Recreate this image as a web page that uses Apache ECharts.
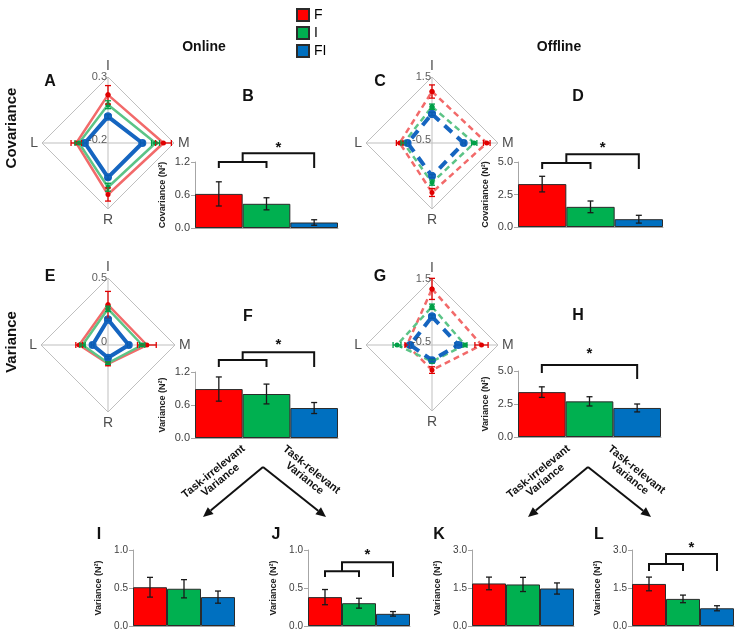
<!DOCTYPE html>
<html><head><meta charset="utf-8">
<script src="https://cdn.jsdelivr.net/npm/echarts@6/dist/echarts.min.js"></script>
<style>html,body{margin:0;padding:0;background:#fff}#c{width:737px;height:633px}</style>
</head><body><div id="c"></div>
<script>
// ---------- DATA ----------
const groups = ['F', 'I', 'FI'];
const radarAxes = ['I', 'M', 'R', 'L'];

// Radar panels: values ordered [I, M, R, L]
const radarA_range = [-0.2, 0.3];
const radarA_F = [0.165, 0.22, 0.19, 0.04];
const radarA_I = [0.09, 0.16, 0.135, 0.02];
const radarA_FI = [0.0, 0.06, 0.06, -0.025];
const radarA_errF = [0.07, 0.06, 0.05, 0.04];
const radarA_errI = [0.03, 0.03, 0.03, 0.03];
const radarA_errFI = [0.015, 0.015, 0.015, 0.015];

const radarC_range = [-0.5, 1.5];
const radarC_F = [1.06, 1.16, 1.0, 0.48];
const radarC_I = [0.6, 0.78, 0.7, 0.36];
const radarC_FI = [0.38, 0.46, 0.5, 0.24];
const radarC_errF = [0.2, 0.1, 0.12, 0.1];
const radarC_errI = [0.08, 0.08, 0.08, 0.08];
const radarC_errFI = [0.05, 0.05, 0.05, 0.05];

const radarE_range = [0, 0.5];
const radarE_F = [0.30, 0.29, 0.14, 0.215];
const radarE_I = [0.27, 0.255, 0.135, 0.19];
const radarE_FI = [0.19, 0.155, 0.095, 0.115];
const radarE_errF = [0.1, 0.07, 0.015, 0.025];
const radarE_errI = [0.02, 0.02, 0.01, 0.02];
const radarE_errFI = [0.01, 0.01, 0.01, 0.01];

const radarG_range = [-0.5, 1.5];
const radarG_F = [1.2, 1.0, 0.26, 0.26];
const radarG_I = [0.66, 0.5, 0.0, 0.56];
const radarG_FI = [0.36, 0.3, -0.04, 0.16];
const radarG_errF = [0.32, 0.2, 0.1, 0.06];
const radarG_errI = [0.08, 0.06, 0.05, 0.12];
const radarG_errFI = [0.05, 0.1, 0.05, 0.05];

// Bar panels
const B_values = [0.62, 0.44, 0.10];
const B_errors = [0.22, 0.11, 0.05];
const D_values = [3.3, 1.55, 0.6];
const D_errors = [0.6, 0.45, 0.3];
const F_values = [0.89, 0.80, 0.545];
const F_errors = [0.22, 0.18, 0.10];
const H_values = [3.4, 2.7, 2.2];
const H_errors = [0.4, 0.35, 0.3];
const I_values = [0.51, 0.49, 0.38];
const I_errors = [0.13, 0.12, 0.08];
const J_values = [0.38, 0.30, 0.16];
const J_errors = [0.10, 0.065, 0.03];
const K_values = [1.68, 1.64, 1.48];
const K_errors = [0.25, 0.28, 0.22];
const L_values = [1.66, 1.07, 0.70];
const L_errors = [0.27, 0.15, 0.10];

const ticks_B = [0, 0.6, 1.2];
const ticks_D = [0, 2.5, 5.0];
const ticks_I = [0, 0.5, 1.0];
const ticks_K = [0, 1.5, 3.0];

// significance brackets: [x1, x2, y, yLeftLegEnd, yRightLegEnd]; star: [x, y]
const B_brackets = [[0, 1, 1.2, 1.09, 1.09], [0.5, 2, 1.36, 1.2, 1.09]];
const B_star = [1.25, 1.46];
const D_brackets = [[0, 1, 4.92, 4.46, 4.46], [0.5, 2, 5.6, 4.92, 4.46]];
const D_star = [1.25, 6.1];
const F_brackets = [[0, 1, 1.42, 1.29, 1.29], [0.5, 2, 1.56, 1.42, 1.29]];
const F_star = [1.25, 1.69];
const H_brackets = [[0, 2, 5.45, 4.85, 4.4]];
const H_star = [1, 6.3];
const J_brackets = [[0, 1, 0.72, 0.645, 0.645], [0.5, 2, 0.84, 0.72, 0.645]];
const J_star = [1.25, 0.93];
const L_brackets = [[0, 1, 2.45, 2.17, 2.17], [0.5, 2, 2.84, 2.45, 2.17]];
const L_star = [1.25, 3.08];

// ---------- STYLE ----------
const colors = ['#ff0000', '#00b050', '#0070c0'];
const radarLine = ['#f26a6a', '#5cc487', '#1565c0'];
const errCol = ['#e00000', '#00a048', '#0a5cb0'];
const FONT = 'Liberation Sans, Arial, sans-serif';

const option = {
  animation: false,
  textStyle: { fontFamily: FONT },
  grid: [], xAxis: [], yAxis: [], series: [], graphic: [],
  legend: {
    orient: 'vertical', left: 291, top: 3, itemGap: 4, itemWidth: 12, itemHeight: 12,
    data: groups.map((g, i) => ({ name: g, icon: 'rect', itemStyle: { color: colors[i] } })),
    textStyle: { fontSize: 14, color: '#000', fontFamily: FONT }, selectedMode: false
  }
};

function addBarPanel(rect, values, errors, ticks, yName, nameGap, labelSize, brackets, star) {
  const gi = option.grid.length;
  option.grid.push({ left: rect[0], top: rect[1], width: rect[2], height: rect[3] });
  option.xAxis.push({ type: 'category', gridIndex: gi, data: groups,
    axisLine: { lineStyle: { color: '#a6a6a6' } }, axisTick: { show: false }, axisLabel: { show: false } });
  option.yAxis.push({ type: 'value', gridIndex: gi, min: ticks[0], max: ticks[2], interval: ticks[1] - ticks[0],
    axisLine: { show: true, lineStyle: { color: '#a6a6a6' } },
    axisTick: { show: true, length: 4, lineStyle: { color: '#a6a6a6' } },
    splitLine: { show: false },
    axisLabel: { fontSize: labelSize, color: '#404040', formatter: v => v.toFixed(1), margin: 5 },
    name: yName, nameLocation: 'middle', nameRotate: 90, nameGap: nameGap,
    nameTextStyle: { fontSize: 9, fontWeight: 'bold', color: '#222' } });
  groups.forEach((g, i) => {
    option.series.push({ type: 'bar', name: g, xAxisIndex: gi, yAxisIndex: gi, barWidth: '100%', barGap: '-100%',
      data: values.map((v, j) => j === i ? v : '-'),
      itemStyle: { color: colors[i], borderColor: '#2b2b2b', borderWidth: 1 } });
  });
  option.series.push({ type: 'custom', xAxisIndex: gi, yAxisIndex: gi, z: 10,
    data: values.map((v, i) => [i, v, errors[i]]),
    renderItem: function (p, api) {
      const x = api.value(0), v = api.value(1), e = api.value(2);
      const t = api.coord([x, v + e]), b = api.coord([x, v - e]);
      const w = 3, st = { stroke: '#1a1a1a', lineWidth: 1.3 };
      return { type: 'group', children: [
        { type: 'line', shape: { x1: t[0], y1: t[1], x2: b[0], y2: b[1] }, style: st },
        { type: 'line', shape: { x1: t[0] - w, y1: t[1], x2: t[0] + w, y2: t[1] }, style: st },
        { type: 'line', shape: { x1: b[0] - w, y1: b[1], x2: b[0] + w, y2: b[1] }, style: st }
      ] };
    } });
  if (brackets) {
    option.series.push({ type: 'custom', xAxisIndex: gi, yAxisIndex: gi, z: 10,
      data: brackets,
      renderItem: function (p, api) {
        const c0 = api.coord([0, 0])[0], c1 = api.coord([1, 0])[0];
        const px = x => c0 + (c1 - c0) * x;
        const x1 = px(api.value(0)), x2 = px(api.value(1));
        const y = api.coord([0, api.value(2)])[1];
        const yl = api.coord([0, api.value(3)])[1];
        const yr = api.coord([0, api.value(4)])[1];
        return { type: 'polyline', shape: { points: [[x1, yl], [x1, y], [x2, y], [x2, yr]] },
          style: { stroke: '#111', lineWidth: 2, fill: null } };
      } });
    option.series.push({ type: 'custom', xAxisIndex: gi, yAxisIndex: gi, z: 10,
      data: [star],
      renderItem: function (p, api) {
        const c0 = api.coord([0, 0])[0], c1 = api.coord([1, 0])[0];
        const x = c0 + (c1 - c0) * api.value(0);
        const y = api.coord([0, api.value(1)])[1];
        return { type: 'text', style: { text: '*', x: x, y: y, align: 'center', verticalAlign: 'middle',
          font: 'bold 15px ' + FONT, fill: '#111' } };
      } });
  }
}

function addRadarPanel(cx, cy, r, range, vals, errs, dashed, maxLabel, minLabel) {
  const gi = option.grid.length;
  option.grid.push({ left: cx - r, top: cy - r, width: 2 * r, height: 2 * r });
  option.xAxis.push({ type: 'value', gridIndex: gi, min: -1, max: 1, show: false });
  option.yAxis.push({ type: 'value', gridIndex: gi, min: -1, max: 1, show: false });
  const base = { xAxisIndex: gi, yAxisIndex: gi, silent: true, symbol: 'none' };
  const dirs = [[0, 1], [1, 0], [0, -1], [-1, 0]];
  const norm = v => (v - range[0]) / (range[1] - range[0]);
  const gridStyle = { color: '#bfbfbf', width: 1 };
  option.series.push(Object.assign({ type: 'line', data: dirs.concat([dirs[0]]), lineStyle: gridStyle }, base));
  option.series.push(Object.assign({ type: 'line', data: [[-1, 0], [1, 0]], lineStyle: gridStyle }, base));
  option.series.push(Object.assign({ type: 'line', data: [[0, -1], [0, 1]], lineStyle: gridStyle }, base));
  groups.forEach((g, gi2) => {
    const pts = vals[gi2].map((v, k) => [dirs[k][0] * norm(v), dirs[k][1] * norm(v)]);
    const isBlue = gi2 === 2;
    option.series.push({ type: 'line', xAxisIndex: gi, yAxisIndex: gi, silent: true, z: 3 + gi2,
      data: pts.concat([pts[0]]),
      symbol: 'circle', symbolSize: isBlue ? 8 : 5,
      itemStyle: { color: isBlue ? radarLine[2] : errCol[gi2] },
      lineStyle: { color: radarLine[gi2], width: isBlue ? 4 : 2.5,
        type: dashed ? (isBlue ? [10, 7] : [6, 4]) : 'solid' } });
    option.series.push({ type: 'custom', xAxisIndex: gi, yAxisIndex: gi, z: 6,
      data: vals[gi2].map((v, k) => [k, norm(v - errs[gi2][k]), norm(v + errs[gi2][k])]),
      renderItem: function (p, api) {
        const k = api.value(0), lo = api.value(1), hi = api.value(2);
        const d = dirs[k];
        const a = api.coord([d[0] * lo, d[1] * lo]), b = api.coord([d[0] * hi, d[1] * hi]);
        const w = 3, st = { stroke: errCol[gi2], lineWidth: 1.3 };
        const cap = q => d[0] === 0
          ? { type: 'line', shape: { x1: q[0] - w, y1: q[1], x2: q[0] + w, y2: q[1] }, style: st }
          : { type: 'line', shape: { x1: q[0], y1: q[1] - w, x2: q[0], y2: q[1] + w }, style: st };
        return { type: 'group', children: [
          { type: 'line', shape: { x1: a[0], y1: a[1], x2: b[0], y2: b[1] }, style: st }, cap(a), cap(b)] };
      } });
  });
  const pos = ['top', 'right', 'bottom', 'left'];
  option.series.push({ type: 'scatter', xAxisIndex: gi, yAxisIndex: gi, silent: true, symbolSize: 0, z: 8,
    data: dirs.map((d, k) => ({ value: d, label: { show: true, position: pos[k], formatter: radarAxes[k],
      fontSize: 14, color: '#222', distance: 4 } })) });
  option.series.push({ type: 'scatter', xAxisIndex: gi, yAxisIndex: gi, silent: true, symbolSize: 0, z: 8,
    data: [
      { value: [0, 1], label: { show: true, position: 'left', formatter: maxLabel, fontSize: 11, color: '#333', distance: 1 } },
      { value: [0, 0], label: { show: true, position: 'left', formatter: minLabel, fontSize: 11, color: '#333', distance: 1, offset: [0, -3] } }
    ] });
}

addRadarPanel(108, 143, 66, radarA_range, [radarA_F, radarA_I, radarA_FI], [radarA_errF, radarA_errI, radarA_errFI], false, '0.3', '-0.2');
addRadarPanel(432, 143, 66, radarC_range, [radarC_F, radarC_I, radarC_FI], [radarC_errF, radarC_errI, radarC_errFI], true, '1.5', '-0.5');
addRadarPanel(108, 345, 67, radarE_range, [radarE_F, radarE_I, radarE_FI], [radarE_errF, radarE_errI, radarE_errFI], false, '0.5', '0');
addRadarPanel(432, 345, 66, radarG_range, [radarG_F, radarG_I, radarG_FI], [radarG_errF, radarG_errI, radarG_errFI], true, '1.5', '-0.5');

addBarPanel([195, 162, 143, 66], B_values, B_errors, ticks_B, 'Covariance (N²)', 28, 11, B_brackets, B_star);
addBarPanel([518, 162, 145, 65], D_values, D_errors, ticks_D, 'Covariance (N²)', 28, 11, D_brackets, D_star);
addBarPanel([195, 372, 143, 66], F_values, F_errors, ticks_B, 'Variance (N²)', 28, 11, F_brackets, F_star);
addBarPanel([518, 371, 143, 66], H_values, H_errors, ticks_D, 'Variance (N²)', 28, 11, H_brackets, H_star);
addBarPanel([133, 550, 102, 76], I_values, I_errors, ticks_I, 'Variance (N²)', 30, 10, null, null);
addBarPanel([308, 550, 102, 76], J_values, J_errors, ticks_I, 'Variance (N²)', 30, 10, J_brackets, J_star);
addBarPanel([472, 550, 102, 76], K_values, K_errors, ticks_K, 'Variance (N²)', 30, 10, null, null);
addBarPanel([632, 550, 102, 76], L_values, L_errors, ticks_K, 'Variance (N²)', 30, 10, L_brackets, L_star);

// ---------- annotations ----------
function txt(x, y, s, size, extra, lh) {
  return Object.assign({ type: 'text', x: x, y: y, style: { text: s, font: 'bold ' + size + 'px ' + FONT,
    fill: '#111', align: 'center', verticalAlign: 'middle', lineHeight: lh || size + 2 } }, extra || {});
}
const G = option.graphic;
G.push(txt(204, 47, 'Online', 14));
G.push(txt(559, 47, 'Offline', 14));
G.push(txt(12, 128, 'Covariance', 15, { rotation: Math.PI / 2 }));
G.push(txt(12, 342, 'Variance', 15, { rotation: Math.PI / 2 }));
[['A', 50, 82], ['B', 248, 97], ['C', 380, 82], ['D', 578, 97], ['E', 50, 277], ['F', 248, 317],
 ['G', 380, 277], ['H', 578, 316], ['I', 99, 535], ['J', 276, 535], ['K', 439, 535], ['L', 599, 535]]
  .forEach(a => G.push(txt(a[1], a[2], a[0], 16)));

function arrow(x1, y1, x2, y2) {
  const ang = Math.atan2(y2 - y1, x2 - x1), L = 10, W = 4.5;
  const bx = x2 - L * Math.cos(ang), by = y2 - L * Math.sin(ang);
  const nx = -Math.sin(ang), ny = Math.cos(ang);
  G.push({ type: 'line', shape: { x1: x1, y1: y1, x2: bx, y2: by }, style: { stroke: '#111', lineWidth: 2 } });
  G.push({ type: 'polygon', shape: { points: [[x2, y2], [bx + nx * W, by + ny * W], [bx - nx * W, by - ny * W]] },
    style: { fill: '#111' } });
}
[0, 325].forEach(dx => {
  arrow(263 + dx, 467, 203 + dx, 517);
  arrow(263 + dx, 467, 326 + dx, 517);
  G.push(txt(217 + dx, 476, 'Task-irrelevant\nVariance', 11, { rotation: 0.68 }, 11));
  G.push(txt(308 + dx, 474, 'Task-relevant\nVariance', 11, { rotation: -0.68 }, 11));
});

const chart = echarts.init(document.getElementById('c'), null, { renderer: 'canvas' });
chart.setOption(option);
</script></body></html>
